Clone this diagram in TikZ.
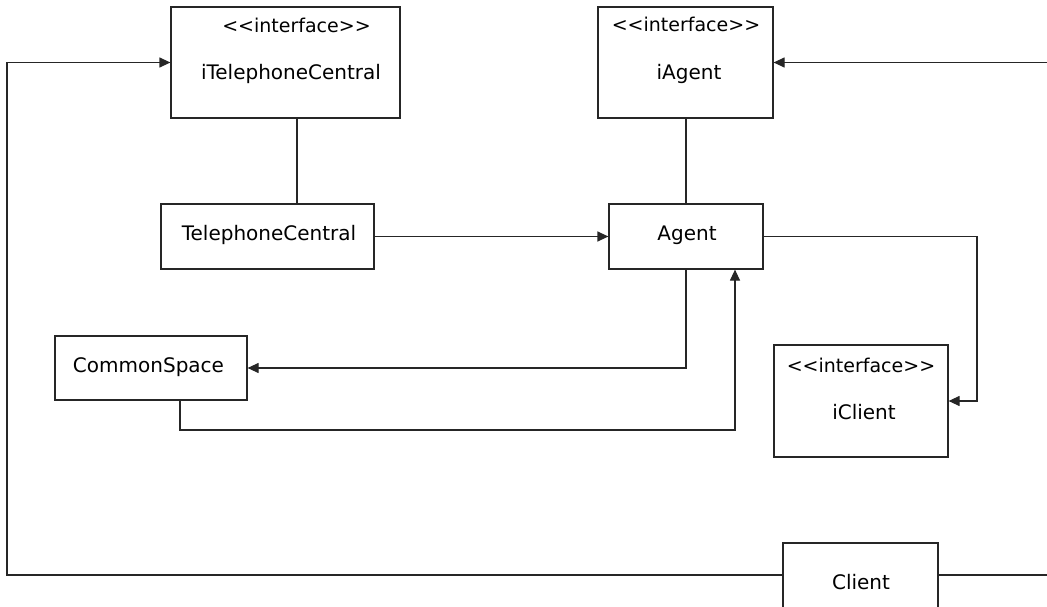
\documentclass[tikz,border=0pt]{standalone}
\usepackage{fontspec}
\setmainfont{DejaVu Sans}[Ligatures=ResetAll]
\usetikzlibrary{arrows.meta}
\newcommand{\stereo}{{\fontsize{19}{22}\selectfont<\kern0pt<\kern0pt interface\kern0pt>\kern0pt>}}
\begin{document}
\begin{tikzpicture}[x=1pt,y=-1pt,
  box/.style={draw=black!85,line width=1.2pt,inner sep=0pt,rectangle},
  txt/.style={inner sep=0pt,anchor=base,font=\fontsize{20}{23}\selectfont},
  conn/.style={draw=black!85,line width=1.2pt},
  arr/.style={conn,-{Triangle[length=11pt,width=10pt]}}]
\useasboundingbox (0,0) rectangle (1047,607);
\clip (0,0) rectangle (1047,607);
% boxes
\node[box,minimum width=229pt,minimum height=111pt] (itc) at (285.5,62.5) {};
\node[box,minimum width=175pt,minimum height=111pt] (ia) at (685.5,62.5) {};
\node[box,minimum width=213pt,minimum height=65pt] (tc) at (267.5,236.5) {};
\node[box,minimum width=154pt,minimum height=65pt] (ag) at (686,236.5) {};
\node[box,minimum width=192pt,minimum height=64pt] (cs) at (151,368) {};
\node[box,minimum width=174pt,minimum height=112pt] (ic) at (861,401) {};
\node[box,minimum width=155pt,minimum height=80pt] (cl) at (860.5,583) {};
% texts
\node[txt] (itcs) at (296.5,33) {\stereo};
\node[txt] (itcn) at (291,80) {iTelephoneCentral};
\node[txt] (ias) at (686,32) {\stereo};
\node[txt] (ian) at (689,80) {iAgent};
\node[txt] (tcn) at (269,240) {TelephoneCentral};
\node[txt] (agn) at (687,240) {Agent};
\node[txt] (csn) at (148.5,372) {CommonSpace};
\node[txt] (ics) at (861,372) {\stereo};
\node[txt] (icn) at (864,419) {iClient};
\node[txt] (cln) at (861,589) {Client};
% helper coordinates
\coordinate (lx) at (7,0);
\coordinate (rx) at (1060,0);
\coordinate (tx) at (297,0);
\coordinate (kx) at (977,0);
\coordinate (csx) at (180,0);
\coordinate (bx) at (735,0);
\coordinate (by) at (0,430);
\coordinate (cly) at (0,575);
% connectors
\draw[arr] (cl.west |- cly) -- (lx |- cly) -- (lx |- itc.west) -- (itc.west);
\draw[arr] (cl.east |- cly) -- (rx |- cly) -- (rx |- ia.east) -- (ia.east);
\draw[conn] (itc.south -| tx) -- (tc.north -| tx);
\draw[arr] (tc.east) -- (ag.west);
\draw[conn] (ia.south -| ag.south) -- (ag.north);
\draw[arr] (ag.east) -| (kx |- ic.east) -- (ic.east);
\draw[arr] (ag.south) |- (cs.east);
\draw[arr] (cs.south -| csx) -- (csx |- by) -- (bx |- by) -- (ag.south -| bx);
\end{tikzpicture}
\end{document}
